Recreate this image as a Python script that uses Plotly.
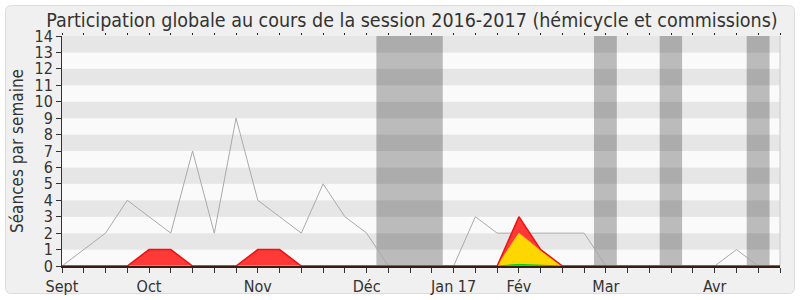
import plotly.graph_objects as go

# ---- data ----
weeks = list(range(34))
month_ticks = [0, 4, 9, 14, 18, 21, 25, 30]
month_labels = ["Sept", "Oct", "Nov", "Déc", "Jan 17", "Fév", "Mar", "Avr"]

total_seances = [0, 1, 2, 4, 3, 2, 7, 2, 9, 4, 3, 2, 5, 3, 2, 0, 0, 0,
                 0, 3, 2, 2, 2, 2, 2, 0, 0, 0, 0, 0, 0, 1, 0, 0]

green_vals = [0] * 34
green_vals[21] = 0.1
green_vals[22] = 0.03

yellow_vals = [0] * 34
yellow_vals[21] = 1.9
yellow_vals[22] = 0.89

red_vals = [0] * 34
for w in (4, 5, 9, 10):
    red_vals[w] = 1
red_vals[21] = 1.0
red_vals[22] = 0.08

vacances = [(14.45, 17.5), (24.45, 25.5), (27.47, 28.5), (31.47, 32.52)]

title_text = "Participation globale au cours de la session 2016-2017 (hémicycle et commissions)"
y_title = "Séances par semaine"

FONT = "DejaVu Sans Condensed, DejaVu Sans, sans-serif"
W, H = 800, 300
ML, MR, MT, MB = 62, 20, 36, 34
PW, PH = W - ML - MR, H - MT - MB


def px(x):
    return (x - ML) / PW


def py(y):
    return (H - MB - y) / PH


fig = go.Figure()

fig.add_trace(go.Scatter(x=weeks, y=total_seances, mode="lines",
                         line=dict(color="#aaaaaa", width=1), hoverinfo="skip"))
fig.add_trace(go.Scatter(x=weeks, y=green_vals, mode="lines", stackgroup="s",
                         line=dict(color="#00cc00", width=1), fillcolor="#22dd22",
                         hoverinfo="skip"))
fig.add_trace(go.Scatter(x=weeks, y=yellow_vals, mode="lines", stackgroup="s",
                         line=dict(color="#ffbf00", width=1), fillcolor="#ffd700",
                         hoverinfo="skip"))
fig.add_trace(go.Scatter(x=weeks, y=red_vals, mode="lines", stackgroup="s",
                         line=dict(color="#ee1111", width=1.5), fillcolor="#ff3838",
                         hoverinfo="skip"))
fig.add_trace(go.Scatter(x=[0, 33], y=[0, 0], xaxis="x2", mode="lines",
                         line=dict(width=0), hoverinfo="skip"))

shapes = []
# rounded panel
r = 6
x0p, x1p, y0p, y1p = 5.5, 794.5, 5.5, 293.5
path = (f"M {px(x0p + r)},{py(y0p)} L {px(x1p - r)},{py(y0p)} "
        f"Q {px(x1p)},{py(y0p)} {px(x1p)},{py(y0p + r)} "
        f"L {px(x1p)},{py(y1p - r)} Q {px(x1p)},{py(y1p)} {px(x1p - r)},{py(y1p)} "
        f"L {px(x0p + r)},{py(y1p)} Q {px(x0p)},{py(y1p)} {px(x0p)},{py(y1p - r)} "
        f"L {px(x0p)},{py(y0p + r)} Q {px(x0p)},{py(y0p)} {px(x0p + r)},{py(y0p)} Z")
shapes.append(dict(type="path", path=path, xref="paper", yref="paper", layer="below",
                   fillcolor="#f0f0f0", line=dict(color="#dcdcdc", width=1)))
# stripes
for k in range(14):
    shapes.append(dict(type="rect", xref="paper", yref="y", x0=0, x1=1, y0=k, y1=k + 1,
                       layer="below", line=dict(width=0),
                       fillcolor="#e6e6e6" if k % 2 == 1 else "#fafafa"))
# vacations
for a, b in vacances:
    shapes.append(dict(type="rect", xref="x", yref="paper", x0=a, x1=b, y0=0, y1=1,
                       layer="below", line=dict(width=0), fillcolor="rgba(0,0,0,0.25)"))
# right border
shapes.append(dict(type="line", xref="paper", yref="paper", x0=1, x1=1, y0=0, y1=1,
                   layer="below", line=dict(color="#c8c8c8", width=1)))

ticktext = []
for w in weeks:
    ticktext.append(month_labels[month_ticks.index(w)] if w in month_ticks else "")

fig.update_layout(
    width=W, height=H,
    margin=dict(l=ML, r=MR, t=MT, b=MB, autoexpand=False),
    paper_bgcolor="white", plot_bgcolor="rgba(0,0,0,0)",
    showlegend=False,
    font=dict(family=FONT, color="#333333", size=16),
    title=dict(text=title_text, x=412 / W, xanchor="center", y=1 - 20 / H,
               yanchor="middle", font=dict(size=19.5, color="#333333", family=FONT)),
    shapes=shapes,
    xaxis=dict(range=[0, 33], tickmode="array", tickvals=weeks, ticktext=ticktext,
               ticks="outside", ticklen=5, tickcolor="#333333", showgrid=False,
               zeroline=False, showline=True, linecolor="#3a1c12", linewidth=1.5,
               tickfont=dict(size=16), automargin=False, fixedrange=True),
    xaxis2=dict(range=[0, 33], overlaying="x", side="top", tickmode="array",
                tickvals=weeks, ticks="outside", ticklen=2, tickcolor="#222222",
                showticklabels=False, showgrid=False, zeroline=False, showline=False,
                automargin=False),
    yaxis=dict(range=[0, 14], tickmode="array", tickvals=list(range(15)),
               ticks="outside", ticklen=5, tickcolor="#333333", showgrid=False,
               zeroline=False, showline=True, linecolor="#333333", linewidth=1,
               tickfont=dict(size=16), automargin=False,
               title=dict(text=y_title, font=dict(size=17), standoff=6)),
)

fig.write_html("out.html")
